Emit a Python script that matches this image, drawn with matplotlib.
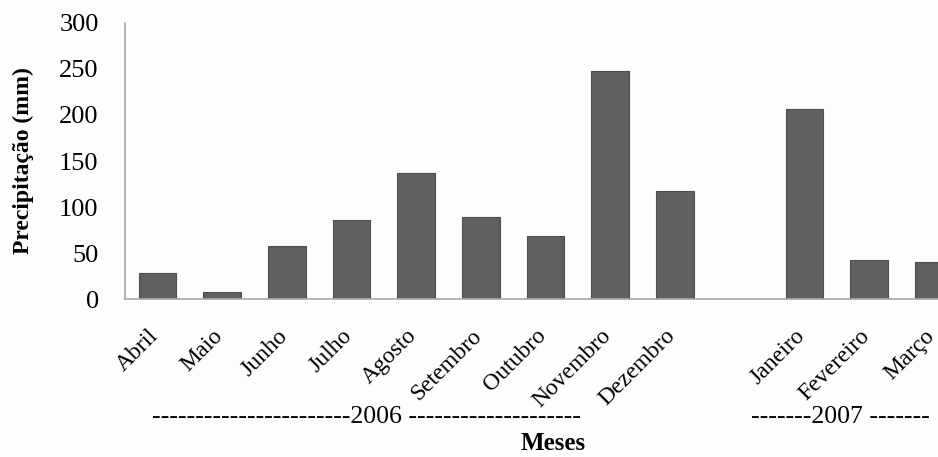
import matplotlib.pyplot as plt
import matplotlib.transforms as mtransforms
import numpy as np

months = ['Abril', 'Maio', 'Junho', 'Julho', 'Agosto', 'Setembro', 'Outubro',
          'Novembro', 'Dezembro', 'Janeiro', 'Fevereiro', 'Março']
precip = [28, 8, 58, 85.5, 137, 89.5, 69, 248, 117.5, 207, 42.5, 40.5]
years = ['-----------------------2006 --------------------', '-------2007 -------']

plt.rcParams['font.family'] = ['Liberation Serif', 'DejaVu Serif']

# one empty slot between December and January
x = np.r_[0:9, 10:13]

fig = plt.figure(figsize=(9.38, 4.57), dpi=100)
fig.patch.set_facecolor('#fdfdfd')
ax = fig.add_axes([0.1333, 0.3457, 0.8966, 0.604])
ax.set_facecolor('#fdfdfd')

ax.bar(x, precip, width=0.58, color='#606060', edgecolor='#4d4d4d', linewidth=0.8)

ax.set_xlim(-0.5, 12.5)
ax.set_ylim(0, 300)
ax.set_yticks(np.arange(0, 301, 50))
ax.tick_params(axis='y', length=0, pad=19, labelsize=19)
ax.tick_params(axis='x', length=0, pad=19, labelsize=17)
ax.set_xticks(x)
ax.set_xticklabels(months, rotation=45, ha='right')
offset = mtransforms.ScaledTranslation(5 / 100, 0, fig.dpi_scale_trans)
for lab in ax.get_xticklabels():
    lab.set_transform(lab.get_transform() + offset)

for side in ['top', 'right']:
    ax.spines[side].set_visible(False)
for side in ['left', 'bottom']:
    ax.spines[side].set_color('#a8a8a8')
    ax.spines[side].set_linewidth(1.2)

ax.set_ylabel('Precipitação (mm)', fontsize=17, fontweight='bold', labelpad=18)

trans = mtransforms.blended_transform_factory(ax.transData, fig.transFigure)
ax.text(3.23, 1 - 417 / 457, years[0], transform=trans, ha='center', va='center', fontsize=18.5)
ax.text(10.56, 1 - 417 / 457, years[1], transform=trans, ha='center', va='center', fontsize=18.5)
fig.text(553 / 938, 1 - 444 / 457, 'Meses', ha='center', va='center', fontsize=18, fontweight='bold')

fig.savefig('out.png', dpi=100, facecolor=fig.get_facecolor())
